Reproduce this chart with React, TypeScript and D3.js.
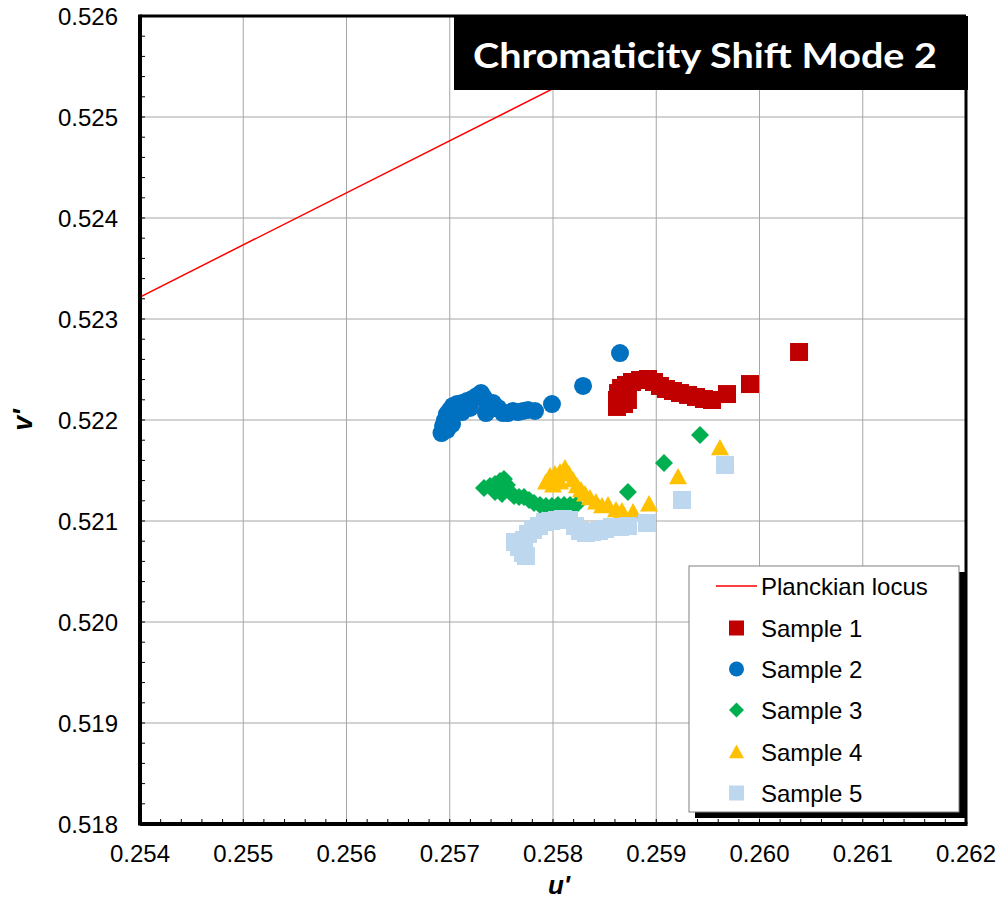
import React from "react";
import * as d3 from "d3";

const xTicks = [0.254, 0.255, 0.256, 0.257, 0.258, 0.259, 0.26, 0.261, 0.262];
const yTicks = [0.518, 0.519, 0.52, 0.521, 0.522, 0.523, 0.524, 0.525, 0.526];

const planckU = [0.2535, 0.254, 0.2594, 0.2600];
const planckV = [0.522960, 0.523218, 0.526003, 0.526313];

const s1U = [0.25862, 0.25862, 0.25863, 0.258659, 0.258707, 0.258765, 0.258843, 0.25892, 0.258978, 0.259036, 0.259094, 0.259162, 0.25923, 0.259308, 0.259385, 0.259462, 0.25954, 0.259685, 0.259908, 0.260383, 0.258688, 0.258726];
const s1V = [0.522129, 0.522198, 0.522267, 0.522317, 0.522347, 0.522376, 0.522396, 0.522406, 0.522376, 0.522337, 0.522307, 0.522287, 0.522267, 0.522248, 0.522228, 0.522208, 0.522198, 0.522257, 0.522356, 0.522673, 0.522158, 0.522198];

const s2U = [0.25692, 0.256935, 0.256954, 0.256973, 0.257002, 0.257031, 0.25707, 0.257119, 0.257167, 0.257215, 0.257264, 0.257303, 0.257332, 0.257361, 0.25738, 0.257351, 0.257419, 0.257467, 0.257516, 0.257564, 0.257613, 0.257661, 0.257709, 0.257758, 0.257826, 0.25799, 0.258291, 0.258649, 0.256973, 0.257022, 0.257119, 0.257196];
const s2V = [0.521871, 0.521941, 0.522, 0.522059, 0.522099, 0.522139, 0.522158, 0.522168, 0.522188, 0.522208, 0.522238, 0.522267, 0.522218, 0.522158, 0.522099, 0.522069, 0.522168, 0.522119, 0.522069, 0.522069, 0.522089, 0.522079, 0.522089, 0.522099, 0.522089, 0.522158, 0.522337, 0.522663, 0.521901, 0.52196, 0.522079, 0.522119];

const s3U = [0.257332, 0.25739, 0.257438, 0.257487, 0.257525, 0.257554, 0.257584, 0.257622, 0.257671, 0.257719, 0.257768, 0.257816, 0.257874, 0.257932, 0.25799, 0.258048, 0.258107, 0.258165, 0.258223, 0.258726, 0.259075, 0.259424, 0.257438, 0.257506];
const s3V = [0.521327, 0.521347, 0.521366, 0.521396, 0.521416, 0.521356, 0.521287, 0.521248, 0.521238, 0.521238, 0.521208, 0.521178, 0.521158, 0.521149, 0.521149, 0.521158, 0.521158, 0.521158, 0.521158, 0.521287, 0.521574, 0.521851, 0.521287, 0.521267];

const s4U = [0.257932, 0.257971, 0.258019, 0.258068, 0.258116, 0.258155, 0.258194, 0.258232, 0.258271, 0.25831, 0.258358, 0.258416, 0.258475, 0.258533, 0.25861, 0.258668, 0.258775, 0.25893, 0.259211, 0.259617, 0.258, 0.258068];
const s4V = [0.521386, 0.521446, 0.521465, 0.521485, 0.521525, 0.521465, 0.521406, 0.521347, 0.521307, 0.521267, 0.521228, 0.521188, 0.521149, 0.521158, 0.521109, 0.521099, 0.521089, 0.521168, 0.521436, 0.521723, 0.521356, 0.521386];

const s5U = [0.257632, 0.257671, 0.257709, 0.257738, 0.257719, 0.257758, 0.257806, 0.257864, 0.257923, 0.257981, 0.258039, 0.258097, 0.258155, 0.258213, 0.258262, 0.25832, 0.258378, 0.258446, 0.258504, 0.258571, 0.258649, 0.258726, 0.25891, 0.259249, 0.259666];
const s5V = [0.520792, 0.520743, 0.520683, 0.520653, 0.520812, 0.520871, 0.520911, 0.52095, 0.52099, 0.521, 0.52101, 0.52102, 0.52101, 0.52095, 0.520901, 0.520881, 0.520891, 0.520901, 0.520921, 0.520941, 0.520941, 0.52095, 0.52098, 0.521208, 0.521554];

const seriesNames = ["Sample 1", "Sample 2", "Sample 3", "Sample 4", "Sample 5"];
const seriesColors = ["#C00000", "#0070C0", "#00B050", "#FFC000", "#BDD7EE"];
const seriesShapes = ["square", "circle", "diamond", "triangle", "square"];
const seriesU = [s1U, s2U, s3U, s4U, s5U];
const seriesV = [s1V, s2V, s3V, s4V, s5V];

const W = 999;
const H = 902;
const L = 140, R = 966, T = 16, B = 824;

function markerPath(shape: string, s: number): string {
  const h = s / 2;
  if (shape === "square") return `M${-h},${-h}H${h}V${h}H${-h}Z`;
  if (shape === "diamond") return `M0,${-h}L${h},0L0,${h}L${-h},0Z`;
  if (shape === "triangle") return `M0,${-h}L${h},${h * 0.82}L${-h},${h * 0.82}Z`;
  return `M${h},0A${h},${h} 0 1,1 ${-h},0A${h},${h} 0 1,1 ${h},0Z`;
}

export default function App() {
  const x = d3.scaleLinear().domain([0.254, 0.262]).range([L, R]);
  const y = d3.scaleLinear().domain([0.518, 0.526]).range([B, T]);
  const fmt = d3.format(".3f");

  const minorX: number[] = [];
  for (let i = 0; i <= 40; i++) minorX.push(0.254 + i * 0.0002);
  const minorY: number[] = [];
  for (let i = 0; i <= 40; i++) minorY.push(0.518 + i * 0.0002);

  const line = d3
    .line<number>()
    .x((_, i) => x(planckU[i]))
    .y((d) => y(d));

  const font = "'Liberation Sans', Arial, sans-serif";
  const legX = 689, legY = 566, legW = 270, legH = 246;
  const rowY = [586, 628, 669, 710, 752, 793];

  return (
    <svg width={W} height={H} style={{ display: "block", position: "absolute", left: 0, top: 0 }}>
      <defs>
        <clipPath id="plotClip">
          <rect x={L} y={T} width={R - L} height={B - T} />
        </clipPath>
      </defs>
      <rect x={0} y={0} width={W} height={H} fill="#fff" />
      {xTicks.map((t) => (
        <line key={"gx" + t} x1={x(t)} x2={x(t)} y1={T} y2={B} stroke="#a6a6a6" strokeWidth={1} />
      ))}
      {yTicks.map((t) => (
        <line key={"gy" + t} x1={L} x2={R} y1={y(t)} y2={y(t)} stroke="#a6a6a6" strokeWidth={1} />
      ))}
      {minorX.map((t, i) => (
        <line key={"mx" + i} x1={x(t)} x2={x(t)} y1={B} y2={B - 5} stroke="#000" strokeWidth={1} />
      ))}
      {minorY.map((t, i) => (
        <line key={"my" + i} x1={L} x2={L + 5} y1={y(t)} y2={y(t)} stroke="#000" strokeWidth={1} />
      ))}
      <path d={line(planckV) || ""} fill="none" stroke="#FF0000" strokeWidth={1.5} clipPath="url(#plotClip)" />
      {seriesU.map((us, si) => (
        <g key={"s" + si} fill={seriesColors[si]}>
          {us.map((u, i) => (
            <path
              key={i}
              transform={`translate(${x(u)},${y(seriesV[si][i])})`}
              d={markerPath(seriesShapes[si], 18)}
            />
          ))}
        </g>
      ))}
      <line x1={L} x2={R} y1={T} y2={T} stroke="#000" strokeWidth={3} />
      <line x1={R} x2={R} y1={T} y2={B} stroke="#000" strokeWidth={3} />
      <line x1={L} x2={L} y1={T - 1.5} y2={B + 1.5} stroke="#000" strokeWidth={4} />
      <line x1={L} x2={R + 1.5} y1={B} y2={B} stroke="#000" strokeWidth={4} />
      <rect x={454} y={T} width={R + 2 - 454} height={74} fill="#000" />
      <text
        x={473}
        y={68}
        fill="#fff"
        fontFamily="Lato, 'Open Sans', sans-serif"
        fontWeight={700}
        fontSize={35}
        textLength={464}
        lengthAdjust="spacingAndGlyphs"
      >
        Chromaticity Shift Mode 2
      </text>
      {xTicks.map((t) => (
        <text key={"tx" + t} x={x(t)} y={862} textAnchor="middle" fontFamily={font} fontSize={24} fill="#000">
          {fmt(t)}
        </text>
      ))}
      {yTicks.map((t) => (
        <text key={"ty" + t} x={118} y={y(t) + 8.5} textAnchor="end" fontFamily={font} fontSize={24} fill="#000">
          {fmt(t)}
        </text>
      ))}
      <text x={559} y={894} textAnchor="middle" fontFamily={font} fontSize={26} fontWeight={700} fontStyle="italic">
        u'
      </text>
      <text
        transform="translate(32,420) rotate(-90)"
        textAnchor="middle"
        fontFamily={font}
        fontSize={27}
        fontWeight={700}
        fontStyle="italic"
      >
        v'
      </text>
      <rect x={legX + 6} y={legY + 6} width={legW} height={legH} fill="#000" />
      <rect x={legX} y={legY} width={legW} height={legH} fill="#fff" stroke="#808080" strokeWidth={1} />
      <line x1={716} x2={757} y1={rowY[0]} y2={rowY[0]} stroke="#FF0000" strokeWidth={1.5} />
      <text x={761} y={rowY[0] + 8.5} fontFamily={font} fontSize={24} fill="#000">
        Planckian locus
      </text>
      {seriesNames.map((n, i) => (
        <g key={"lg" + i}>
          <path
            transform={`translate(736.5,${rowY[i + 1]})`}
            d={markerPath(seriesShapes[i], 15)}
            fill={seriesColors[i]}
          />
          <text x={761} y={rowY[i + 1] + 8.5} fontFamily={font} fontSize={24} fill="#000">
            {n}
          </text>
        </g>
      ))}
    </svg>
  );
}
